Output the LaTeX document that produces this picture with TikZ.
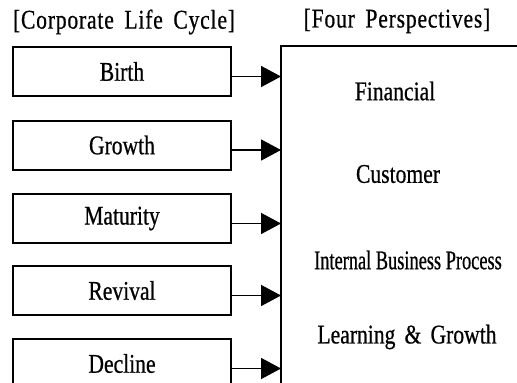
\documentclass[tikz,border=0pt]{standalone}
\usepackage{fontspec}
\setmainfont[FakeStretch=0.8,WordSpace=1.7,FakeBold=0.6]{Liberation Serif}
\newfontfamily\narrowfont[FakeStretch=0.68,FakeBold=0.6]{Liberation Serif}
\newfontfamily\titlefont[FakeStretch=0.8,WordSpace=1.7,LetterSpace=3,FakeBold=0.6]{Liberation Serif}
\usetikzlibrary{arrows.meta}

\tikzset{
  stage/.style={draw, line width=2pt, minimum width=218pt, minimum height=49pt,
    inner sep=0pt, outer sep=0pt, font=\fontsize{27}{30}\selectfont},
  heading/.style={inner sep=0pt, font=\titlefont\fontsize{27}{30}\selectfont},
  persptext/.style={inner sep=0pt, font=\fontsize{27}{30}\selectfont},
  feed/.style={line width=1.6pt, -{Triangle[length=20pt,width=21pt]}}
}

\begin{document}
\begin{tikzpicture}[x=1pt,y=-1pt]
\clip (0,0) rectangle (517,383);
\fill[white] (0,0) rectangle (517,383);

% column headings
\node[heading] (lifecycle) at (124,22) {[Corporate Life Cycle]};
\node[heading] (fourp) at (397,21) {[Four Perspectives]};

% life-cycle stages
\node[stage] (birth)    at (122,71.5)  {Birth};
\node[stage] (growth)   at (122,145)   {Growth};
\node[stage] (maturity) at (122,218.5) {Maturity};
\node[stage] (revival)  at (122,290.5) {Revival};
\node[stage] (decline)  at (122,363.5) {Decline};

% perspectives frame (runs past the right and bottom edges)
\node[draw, line width=2pt, anchor=north west, inner sep=0pt, outer sep=0pt,
      minimum width=300pt, minimum height=400pt] (persp) at (281,46) {};

\node[persptext] (financial) at (395,91)  {Financial};
\node[persptext] (customer)  at (398,174) {Customer};
\node[persptext] (internal)  at (408,260) {\narrowfont Internal Business Process};
\node[persptext] (learning)  at (407,337) {Learning \& Growth};

% arrows into the frame
\foreach \s in {birth,growth,maturity,revival,decline}{
  \coordinate (\s-out) at ([yshift=-5pt]\s.east);
  \draw[feed] (\s-out) -- (\s-out -| persp.west);
}
\end{tikzpicture}
\end{document}
